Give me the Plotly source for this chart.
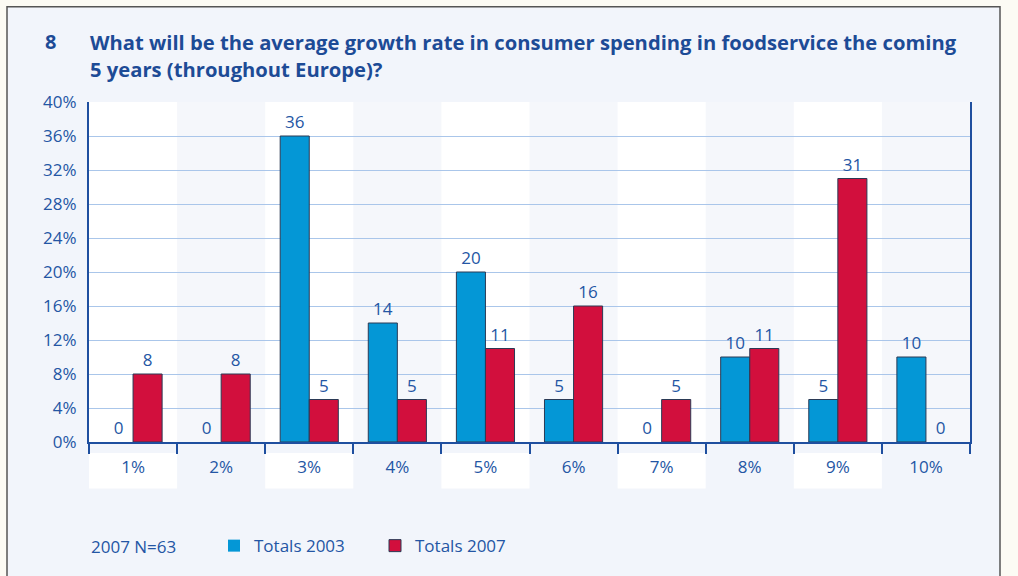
import plotly.graph_objects as go

categories = ["1%", "2%", "3%", "4%", "5%", "6%", "7%", "8%", "9%", "10%"]
totals_2003 = [0, 0, 36, 14, 20, 5, 0, 10, 5, 10]
totals_2007 = [8, 8, 5, 5, 11, 16, 5, 11, 31, 0]
y_ticks = [0, 4, 8, 12, 16, 20, 24, 28, 32, 36, 40]
y_tick_labels = [f"{v}%" for v in y_ticks]

W, H = 1018, 576
L, R, T, B = 89, 48, 102, 131
PW, PH = W - L - R, H - T - B

def px(x):
    return (x - L) / PW

def py(y):
    return (H - B - y) / PH

TXT = "#2456a4"
FONT = "Open Sans"
FS = 17

fig = go.Figure()
fig.add_trace(go.Bar(
    x=categories, y=totals_2003, name="Totals 2003",
    marker=dict(color="#0497d6", line=dict(color="#2b3a55", width=[0 if v == 0 else 1 for v in totals_2003])),
    text=totals_2003, textposition="outside", cliponaxis=False,
    textfont=dict(color=TXT, size=FS, family=FONT),
))
fig.add_trace(go.Bar(
    x=categories, y=totals_2007, name="Totals 2007",
    marker=dict(color="#d20f3d", line=dict(color="#2b3a55", width=[0 if v == 0 else 1 for v in totals_2007])),
    text=totals_2007, textposition="outside", cliponaxis=False,
    textfont=dict(color=TXT, size=FS, family=FONT),
))

shapes = [
    dict(type="rect", xref="paper", yref="paper", x0=px(7), x1=px(1000), y0=py(600), y1=py(6),
         fillcolor="#f2f5fb", line=dict(color="#555555", width=1.5), layer="below"),
    dict(type="rect", xref="paper", yref="paper", x0=0, x1=1, y0=0, y1=1,
         fillcolor="#ffffff", line=dict(width=0), layer="below"),
]
for i, c in enumerate(categories):
    if i % 2 == 1:
        shapes.append(dict(type="rect", xref="x", yref="paper", x0=i - 0.5, x1=i + 0.5, y0=0, y1=1,
                           fillcolor="#f5f7fb", line=dict(width=0), layer="below"))
    else:
        shapes.append(dict(type="rect", xref="x", yref="paper", x0=i - 0.5, x1=i + 0.5,
                           y0=py(456), y1=py(492),
                           fillcolor="#ffffff", line=dict(width=0), layer="below"))

annotations = [
    dict(text="<b>8</b>", xref="paper", yref="paper", x=px(43), y=py(41), xanchor="left", yanchor="middle",
         showarrow=False, font=dict(size=20, color="#1d4b96", family=FONT)),
    dict(text="<b>What will be the average growth rate in consumer spending in foodservice the coming</b>",
         xref="paper", yref="paper", x=px(88), y=py(41), xanchor="left", yanchor="middle",
         showarrow=False, font=dict(size=20.2, color="#1d4b96", family=FONT)),
    dict(text="<b>5 years (throughout Europe)?</b>",
         xref="paper", yref="paper", x=px(88), y=py(69), xanchor="left", yanchor="middle",
         showarrow=False, font=dict(size=20.2, color="#1d4b96", family=FONT)),
    dict(text="2007 N=63", xref="paper", yref="paper", x=px(89), y=py(550), xanchor="left", yanchor="middle",
         showarrow=False, font=dict(size=FS, color=TXT, family=FONT)),
]

fig.update_layout(
    width=W, height=H,
    margin=dict(l=L, r=R, t=T, b=B, pad=0),
    paper_bgcolor="#fcfbf4",
    plot_bgcolor="rgba(0,0,0,0)",
    barmode="group", bargap=0.34, bargroupgap=0,
    font=dict(family=FONT, color=TXT, size=FS),
    showlegend=True,
    legend=dict(orientation="h", x=px(214), y=py(550), xanchor="left", yanchor="middle",
                bgcolor="rgba(0,0,0,0)", font=dict(size=FS, color=TXT, family=FONT),
                itemwidth=30, tracegroupgap=0, entrywidth=116, entrywidthmode="pixels"),
    shapes=shapes,
    annotations=annotations,
)
fig.update_xaxes(
    type="category", showline=True, linecolor="#1f4f9f", linewidth=2,
    ticks="outside", tickson="boundaries", ticklen=10, tickcolor="#1f4f9f", tickwidth=1.5,
    tickfont=dict(size=FS, color=TXT, family=FONT), showgrid=False, range=[-0.5, 9.5],
    ticklabelstandoff=9,
)
fig.update_yaxes(
    range=[0, 40], tickvals=y_ticks, ticktext=y_tick_labels,
    showline=True, mirror=True, linecolor="#1f4f9f", linewidth=2,
    showgrid=True, gridcolor="#aac6ea", gridwidth=1,
    tickfont=dict(size=FS, color=TXT, family=FONT), ticks="", ticklabelstandoff=7, zeroline=False,
)

fig.write_html("out.html")
